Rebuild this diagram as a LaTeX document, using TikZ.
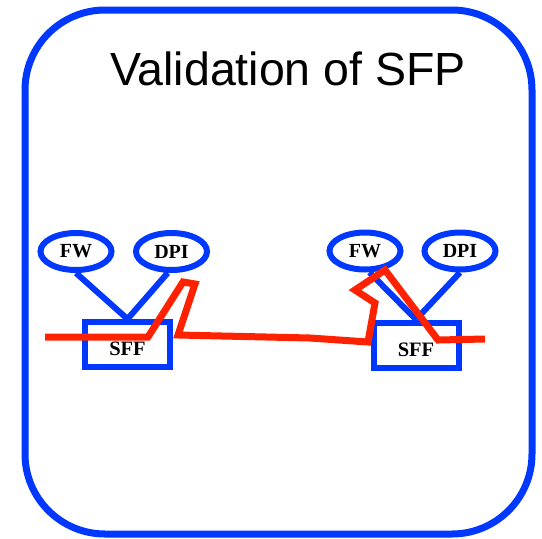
\documentclass[tikz,border=0pt]{standalone}
\usepackage{fontspec}
\setmainfont{Liberation Serif}
\newfontfamily\titlefont{Liberation Sans}
\usetikzlibrary{shapes.geometric}
\definecolor{bblue}{RGB}{0,56,255}
\definecolor{rred}{RGB}{255,34,0}
\begin{document}
\begin{tikzpicture}[x=1pt,y=-1pt,
  ell/.style={draw=bblue,line width=6pt,ellipse,inner sep=0pt,minimum width=71pt,minimum height=37pt,font=\bfseries\fontsize{20}{20}\selectfont},
  sffbox/.style={draw=bblue,line width=6pt,rectangle,inner sep=0pt,minimum width=85pt,minimum height=45pt},
  lbl/.style={font=\bfseries\fontsize{20.5}{20.5}\selectfont,anchor=base},
  conn/.style={draw=bblue,line width=6pt},
  redline/.style={draw=rred,line width=7pt,line join=miter}]
\useasboundingbox (0,0) rectangle (542,539);
\draw[bblue,line width=7pt,rounded corners=80pt] (25,10) rectangle (532,534);
\node[font=\titlefont\fontsize{46.5}{46.5}\selectfont,anchor=base] (title) at (288,85) {Validation of SFP};
% left group
\node[ell] (fw1) at (76,251.5) {FW};
\node[ell] (dpi1) at (171.5,251.5) {DPI};
\node[sffbox] (sff1) at (127.5,344.5) {};
\node[lbl] (sfft1) at (127.5,355) {SFF};
\draw[conn] (fw1.south) -- (sff1.north);
\draw[conn] (dpi1.-100) -- (sff1.north);
% right group
\node[ell] (fw2) at (365,251) {FW};
\node[ell] (dpi2) at (460,251) {DPI};
\node[sffbox] (sff2) at (416,345) {};
\node[lbl] (sfft2) at (416,356) {SFF};
\draw[conn] (fw2.-78) -- (sff2.north);
\draw[conn] (dpi2.south) -- (sff2.north);
% red path
\draw[redline] (45,337) -- (148,337) -- (183,282) -- (195,284) -- (178,335) -- (310,338) -- (368,342) -- (375,303) -- (355,290) -- (385,270) -- (438,340) -- (485,339);
\end{tikzpicture}
\end{document}
